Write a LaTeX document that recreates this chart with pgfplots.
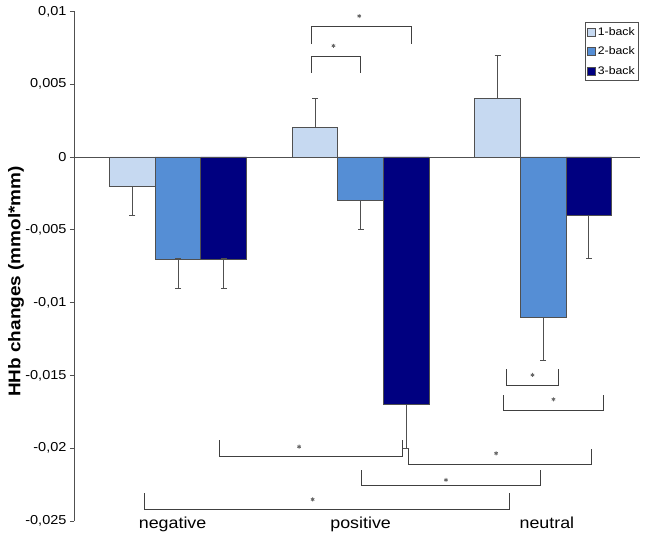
\documentclass[border=0pt]{standalone}
\usepackage{fontspec}
\setmainfont{Liberation Sans}[FakeStretch=1.12]
\usepackage{pgfplots}
\pgfplotsset{compat=1.18}
\definecolor{oneback}{RGB}{198,217,241}
\definecolor{twoback}{RGB}{85,142,213}
\definecolor{threeback}{RGB}{0,0,128}
\definecolor{edge}{RGB}{80,80,80}

\begin{document}
\begin{tikzpicture}
\useasboundingbox (-74bp,-18bp) rectangle (579bp,521bp);
\begin{axis}[
  scale only axis, width=566bp, height=509.6bp,
  xmin=-0.57, xmax=2.53, ymin=-0.025, ymax=0.01,
  axis x line*=bottom, axis y line*=left,
  x axis line style={draw=none},
  y axis line style={draw=edge, line width=0.9bp},
  xtick={-0.03,1,2.02}, xticklabels={negative,positive,neutral},
  xtick style={draw=none},
  xticklabel style={font=\fontsize{16}{18}\selectfont, yshift=12bp},
  ytick={-0.025,-0.02,-0.015,-0.01,-0.005,0,0.005,0.01},
  yticklabels={{-0,025},{-0,02},{-0,015},{-0,01},{-0,005},{0},{0,005},{0,01}},
  yticklabel style={font=\fontsize{13}{15}\selectfont},
  tick align=outside, major tick length=4bp,
  ytick style={draw=edge, line width=0.9bp},
  ylabel={\bfseries HHb changes (mmol*mm)},
  ylabel style={font=\fontsize{17}{19}\selectfont, at={(axis description cs:-0.1025,0.47)}, anchor=center},
  ybar, bar width=0.25, bar shift=0pt,
  clip=false,
  legend style={at={(0.998,0.979)}, anchor=north east, draw=edge, fill=white,
    font=\fontsize{11}{13}\selectfont, inner xsep=2bp, inner ysep=3bp, row sep=6bp},
  legend cell align=left,
  legend image code/.code={\draw[#1, line width=0.6bp] (0bp,-4bp) rectangle (8bp,4bp);},
  error bars/error bar style={draw=edge, line width=0.9bp},
  error bars/error mark options={rotate=90, mark size=3bp, draw=edge, line width=0.9bp},
]
\addplot[fill=oneback, draw=edge, line width=0.8bp,
  error bars/.cd, y dir=both, y explicit] coordinates {
  (-0.25,-0.002) += (0,0) -= (0,0.002)
  (0.75,0.002) += (0,0.002) -= (0,0)
  (1.75,0.004) += (0,0.003) -= (0,0)
};
\addlegendentry{1-back}
\addplot[fill=twoback, draw=edge, line width=0.8bp,
  error bars/.cd, y dir=both, y explicit] coordinates {
  (0,-0.007) += (0,0) -= (0,0.002)
  (1,-0.003) += (0,0) -= (0,0.002)
  (2,-0.011) += (0,0) -= (0,0.003)
};
\addlegendentry{2-back}
\addplot[fill=threeback, draw=edge, line width=0.8bp,
  error bars/.cd, y dir=both, y explicit] coordinates {
  (0.25,-0.007) += (0,0) -= (0,0.002)
  (1.25,-0.017) += (0,0) -= (0,0.003)
  (2.25,-0.004) += (0,0) -= (0,0.003)
};
\addlegendentry{3-back}
% zero line
\addplot[sharp plot, forget plot, draw=edge, line width=0.9bp] coordinates {(-0.57,0)(2.53,0)};
% significance brackets
\addplot[sharp plot, forget plot, draw=black!75, line width=1bp] coordinates {(0.729,0.00776)(0.729,0.00895)(1.281,0.00895)(1.281,0.00776)};
\addplot[sharp plot, forget plot, draw=black!75, line width=1bp] coordinates {(0.729,0.00579)(0.729,0.00689)(1.001,0.00689)(1.001,0.00579)};
\addplot[sharp plot, forget plot, draw=black!75, line width=1bp] coordinates {(1.801,-0.01458)(1.801,-0.01566)(2.084,-0.01566)(2.084,-0.01458)};
\addplot[sharp plot, forget plot, draw=black!75, line width=1bp] coordinates {(1.782,-0.01635)(1.782,-0.01742)(2.330,-0.01742)(2.330,-0.01635)};
\addplot[sharp plot, forget plot, draw=black!75, line width=1bp] coordinates {(0.225,-0.01944)(0.225,-0.02054)(1.231,-0.02054)(1.231,-0.01944)};
\addplot[sharp plot, forget plot, draw=black!75, line width=1bp] coordinates {(1.262,-0.02008)(1.262,-0.02109)(2.263,-0.02109)(2.263,-0.02008)};
\addplot[sharp plot, forget plot, draw=black!75, line width=1bp] coordinates {(1.003,-0.02150)(1.003,-0.02253)(1.987,-0.02253)(1.987,-0.02150)};
\addplot[sharp plot, forget plot, draw=black!75, line width=1bp] coordinates {(-0.183,-0.02308)(-0.183,-0.02421)(1.814,-0.02421)(1.814,-0.02308)};
% asterisks
\addplot[forget plot, only marks, mark=asterisk, mark size=2bp, draw=black!60, line width=0.8bp] coordinates {
  (0.992,0.00968)(0.851,0.00764)(1.941,-0.01497)(2.056,-0.01664)
  (0.663,-0.01990)(1.742,-0.02035)(1.467,-0.02218)(0.737,-0.02352)
};
\end{axis}
\end{tikzpicture}
\end{document}
